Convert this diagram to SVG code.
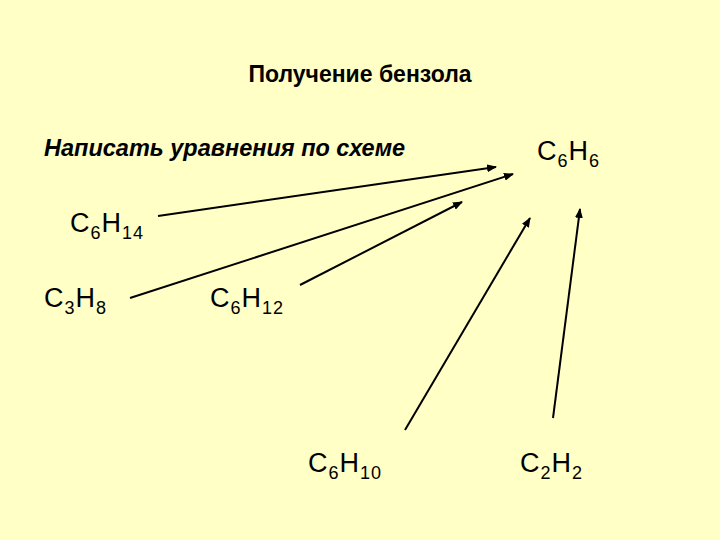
<svg xmlns="http://www.w3.org/2000/svg" width="720" height="540" viewBox="0 0 720 540">
<style>
text{font-family:"Liberation Sans",Arial,sans-serif;fill:#000}
.t{font-size:27px;letter-spacing:1px}
.s{font-size:18px}
.c line{stroke:#000;stroke-width:2;marker-end:url(#a)}
</style>
<defs><marker id="a" markerWidth="10" markerHeight="8" refX="9" refY="4" orient="auto" markerUnits="userSpaceOnUse"><path d="M0,0L10,4L0,8z" fill="#000"/></marker></defs>
<rect width="720" height="540" fill="#FFFFC6"/>
<g id="title"><text x="360" y="82" text-anchor="middle" font-size="23" font-weight="bold">Получение бензола</text></g>
<g id="task"><text x="44" y="156" font-size="23.5" font-style="italic" font-weight="bold">Написать уравнения по схеме</text></g>
<g id="C6H6"><text x="537" y="160" class="t">C<tspan class="s" dy="7">6</tspan><tspan dy="-7">H</tspan><tspan class="s" dy="7">6</tspan></text></g>
<g id="C6H14"><text x="70" y="232" class="t">C<tspan class="s" dy="7">6</tspan><tspan dy="-7">H</tspan><tspan class="s" dy="7">14</tspan></text></g>
<g id="C3H8"><text x="44" y="307" class="t">C<tspan class="s" dy="7">3</tspan><tspan dy="-7">H</tspan><tspan class="s" dy="7">8</tspan></text></g>
<g id="C6H12"><text x="210" y="307" class="t">C<tspan class="s" dy="7">6</tspan><tspan dy="-7">H</tspan><tspan class="s" dy="7">12</tspan></text></g>
<g id="C6H10"><text x="308" y="472" class="t">C<tspan class="s" dy="7">6</tspan><tspan dy="-7">H</tspan><tspan class="s" dy="7">10</tspan></text></g>
<g id="C2H2"><text x="520" y="472" class="t">C<tspan class="s" dy="7">2</tspan><tspan dy="-7">H</tspan><tspan class="s" dy="7">2</tspan></text></g>
<g class="c" id="connectors">
<line x1="158" y1="216" x2="496" y2="167"/>
<line x1="130" y1="298" x2="513" y2="174"/>
<line x1="300" y1="285" x2="462" y2="202"/>
<line x1="405" y1="430" x2="530" y2="218"/>
<line x1="553" y1="418" x2="580" y2="209"/>
</g>
</svg>
